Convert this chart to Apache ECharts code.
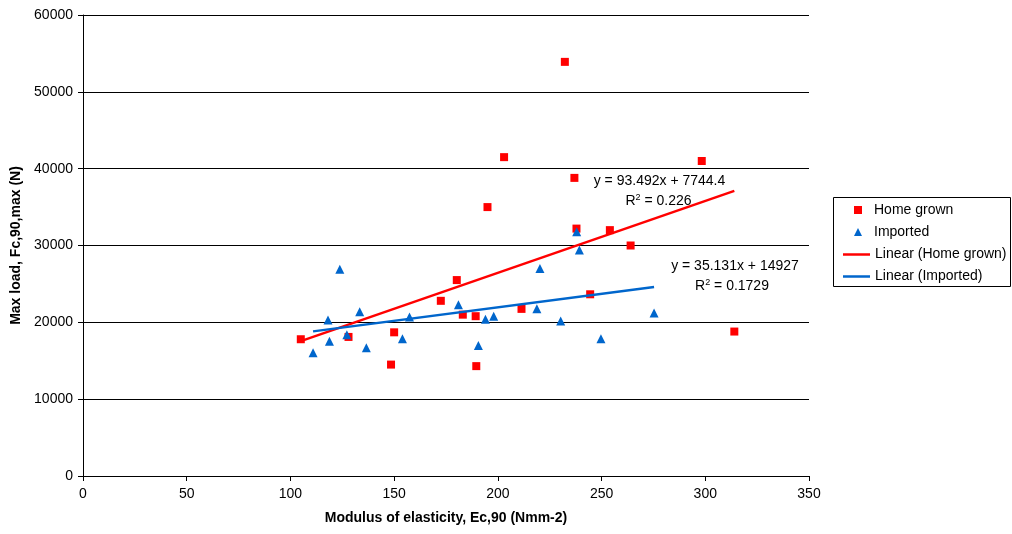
<!DOCTYPE html>
<html><head><meta charset="utf-8">
<script src="https://cdn.jsdelivr.net/npm/echarts@6/dist/echarts.min.js"></script>
<style>html,body{margin:0;padding:0;background:#fff}#c{width:1012px;height:534px}</style>
</head><body><div id="c"></div>
<script>
// Home grown (red squares)
const homeX = [105, 128, 150, 148.5, 172.5, 180.2, 183.1, 189.3, 189.6, 195, 203, 211.4, 232.3, 236.9, 237.9, 244.5, 254, 264, 298.3, 314];
const homeY = [17800, 18100, 18700, 14500, 22800, 25500, 21000, 20800, 14300, 35000, 41500, 21750, 53900, 38800, 32200, 23650, 32000, 30000, 41000, 18800];
// Imported (blue triangles)
const impX = [110.9, 118.8, 118.1, 123.8, 127.2, 133.4, 136.6, 154, 157.4, 181, 190.6, 194, 198, 218.8, 220.3, 230.3, 238, 239.3, 249.7, 275.3];
const impY = [16050, 17530, 20300, 26900, 18390, 21390, 16700, 17870, 20700, 22300, 17000, 20400, 20800, 21780, 27000, 20170, 31800, 29400, 17850, 21200];
// Linear trendlines (end points, from the displayed equations over the data range)
const homeTrendX = [105, 314];
const homeTrendY = [17561, 37101];
const impTrendX = [110.9, 275.3];
const impTrendY = [18823, 24599];
const seriesNames = ['Home grown', 'Imported', 'Linear (Home grown)', 'Linear (Imported)'];
const eqHome = ['y = 93.492x + 7744.4', '0.226'];
const eqImp = ['y = 35.131x + 14927', '0.1729'];

const zip = (a, b) => a.map((v, i) => [v, b[i]]);
const FONT = '"Liberation Sans", Arial, sans-serif';
const RED = '#FF0000', BLUE = '#0066CC';
const supRich = {s: {fontSize: 9, verticalAlign: 'top', lineHeight: 16, padding: [0, 0, 7, 0]}};

const chart = echarts.init(document.getElementById('c'), null, {renderer: 'canvas'});
chart.setOption({
  animation: false,
  backgroundColor: '#fff',
  textStyle: {fontFamily: FONT},
  grid: {left: 83, right: 203, top: 15, bottom: 58, containLabel: false},
  xAxis: {
    type: 'value', min: 0, max: 350, interval: 50,
    name: 'Modulus of elasticity, Ec,90 (Nmm-2)', nameLocation: 'middle', nameGap: 35,
    nameTextStyle: {fontFamily: FONT, fontSize: 14, fontWeight: 'bold', color: '#000'},
    axisLine: {show: true, lineStyle: {color: '#000', width: 1}},
    axisTick: {show: true, length: 5, lineStyle: {color: '#000'}},
    axisLabel: {fontFamily: FONT, fontSize: 14, color: '#000', margin: 11, formatter: v => String(v)},
    splitLine: {show: false}
  },
  yAxis: {
    type: 'value', min: 0, max: 60000, interval: 10000,
    name: 'Max load, Fc,90,max (N)', nameLocation: 'middle', nameGap: 58,
    nameTextStyle: {fontFamily: FONT, fontSize: 14, fontWeight: 'bold', color: '#000'},
    axisLine: {show: true, lineStyle: {color: '#000', width: 1}},
    axisTick: {show: true, length: 5, lineStyle: {color: '#000'}},
    axisLabel: {fontFamily: FONT, fontSize: 14, color: '#000', margin: 10, formatter: v => String(v)},
    splitLine: {show: true, lineStyle: {color: '#000', width: 1}}
  },
  legend: [
    {
      data: [seriesNames[0], seriesNames[1]], orient: 'vertical', left: 854, top: 202, padding: 0,
      itemWidth: 8, itemHeight: 8, itemGap: 6,
      textStyle: {fontFamily: FONT, fontSize: 14, color: '#000', lineHeight: 16, padding: [0, 0, 0, 7]}
    },
    {
      data: [{name: seriesNames[2], icon: 'rect'}, {name: seriesNames[3], icon: 'rect'}],
      orient: 'vertical', left: 843, top: 246.5, padding: 0,
      itemWidth: 27, itemHeight: 2.5, itemGap: 6,
      textStyle: {fontFamily: FONT, fontSize: 14, color: '#000', lineHeight: 16}
    }
  ],
  graphic: [
    {type: 'rect', shape: {x: 833.5, y: 197.5, width: 177, height: 89}, style: {fill: 'none', stroke: '#000', lineWidth: 1}, silent: true},
    {type: 'text', style: {text: eqHome[0], x: 659.5, y: 181.5, align: 'center', verticalAlign: 'middle', font: '14px ' + FONT, fill: '#000'}},
    {type: 'text', style: {text: 'R{s|2} = ' + eqHome[1], x: 658.5, y: 201, align: 'center', verticalAlign: 'middle', font: '14px ' + FONT, fill: '#000', rich: supRich}},
    {type: 'text', style: {text: eqImp[0], x: 735, y: 266, align: 'center', verticalAlign: 'middle', font: '14px ' + FONT, fill: '#000'}},
    {type: 'text', style: {text: 'R{s|2} = ' + eqImp[1], x: 732, y: 286, align: 'center', verticalAlign: 'middle', font: '14px ' + FONT, fill: '#000', rich: supRich}}
  ],
  series: [
    {name: seriesNames[0], type: 'scatter', data: zip(homeX, homeY), symbol: 'rect', symbolSize: 8,
      itemStyle: {color: RED, opacity: 1}, z: 3},
    {name: seriesNames[1], type: 'scatter', data: zip(impX, impY), symbol: 'triangle', symbolSize: [9, 9],
      itemStyle: {color: BLUE, opacity: 1}, z: 4},
    {name: seriesNames[2], type: 'line', data: zip(homeTrendX, homeTrendY), showSymbol: false, symbol: 'none',
      lineStyle: {color: RED, width: 2.5}, itemStyle: {color: RED}, z: 5},
    {name: seriesNames[3], type: 'line', data: zip(impTrendX, impTrendY), showSymbol: false, symbol: 'none',
      lineStyle: {color: BLUE, width: 2.5}, itemStyle: {color: BLUE}, z: 5}
  ]
});
</script>
</body></html>
